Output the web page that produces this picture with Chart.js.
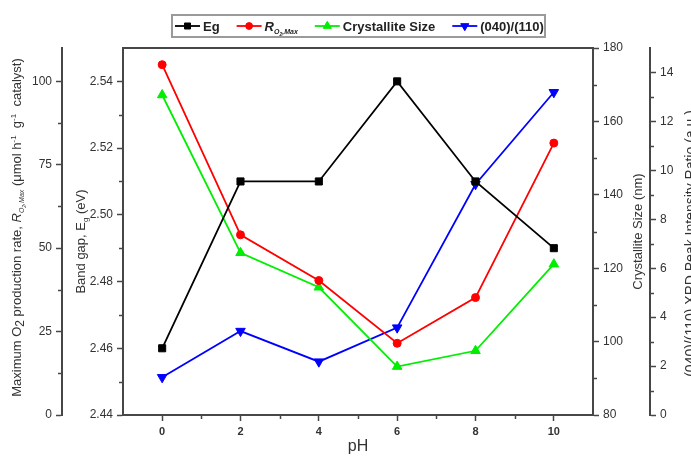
<!DOCTYPE html>
<html>
<head>
<meta charset="utf-8">
<script src="https://cdn.jsdelivr.net/npm/chart.js@4.4.1/dist/chart.umd.min.js"></script>
<style>
    html, body { margin: 0; padding: 0; background: #fff; }
    #wrap { width: 691px; height: 459px; }
</style>
</head>
<body>
<div id="wrap"><canvas id="chart"></canvas></div>
<script>
const ph = [0, 2, 4, 6, 8, 10];
const bandGap = [2.46, 2.51, 2.51, 2.54, 2.51, 2.49];
const o2Rate = [105, 54, 40.3, 21.5, 35.2, 81.5];
const crystalliteSize = [167.2, 124.2, 114.8, 93.2, 97.5, 121.1];
const peakRatio = [1.54, 3.43, 2.18, 3.57, 9.43, 13.19];

const phTicks = [0, 2, 4, 6, 8, 10];
const o2Ticks = [0, 25, 50, 75, 100];
const gapTicks = [2.44, 2.46, 2.48, 2.5, 2.52, 2.54];
const sizeTicks = [80, 100, 120, 140, 160, 180];
const ratioTicks = [0, 2, 4, 6, 8, 10, 12, 14];

const phMinor = [1, 3, 5, 7, 9];
const o2Minor = [12.5, 37.5, 62.5, 87.5];
const gapMinor = [2.45, 2.47, 2.49, 2.51, 2.53];
const sizeMinor = [90, 110, 130, 150, 170];
const ratioMinor = [1, 3, 5, 7, 9, 11, 13];

const FONT = 'Arial, "Liberation Sans", sans-serif';
const AXIS = '#474747';
const LABEL = '#333333';

// rich text pieces: sub/superscripts are shifted with dy
const rSub = [
    { t: 'O', italic: true, size: 7, dy: 3 },
    { t: '2', italic: true, size: 5, dy: 5 },
    { t: ',Max', italic: true, size: 7, dy: 3 },
];
const o2Title = [
    { t: 'Maximum O' },
    { t: '2', size: 12, dy: 3 },
    { t: ' production rate, ' },
    { t: 'R', italic: true },
    ...rSub,
    { t: ' (\u03bcmol h' },
    { t: '-1', size: 8, dy: -5 },
    { t: '  g' },
    { t: '-1', size: 8, dy: -5 },
    { t: '  catalyst)' },
];
const gapTitle = [{ t: 'Band gap, E' }, { t: 'g', size: 8, dy: 3 }, { t: ' (eV)' }];
const sizeTitle = [{ t: 'Crystallite Size (nm)' }];
const ratioTitle = [{ t: '(040)/(110) XRD Peak Intensity Ratio (a.u.)', size: 14 }];

function segFont(s, base, bold) {
    return `${s.italic ? 'italic ' : ''}${bold ? 'bold ' : ''}${s.size || base}px ${FONT}`;
}

function drawRich(ctx, segs, cx, cy, angle, base, bold, align) {
    ctx.save();
    ctx.translate(cx, cy);
    ctx.rotate(angle);
    let total = 0;
    const widths = segs.map((s) => {
        ctx.font = segFont(s, base, bold);
        const w = ctx.measureText(s.t).width;
        total += w;
        return w;
    });
    let x = align === 'left' ? 0 : -total / 2;
    ctx.textAlign = 'left';
    ctx.textBaseline = 'alphabetic';
    segs.forEach((s, i) => {
        ctx.font = segFont(s, base, bold);
        ctx.fillText(s.t, x, base * 0.36 + (s.dy || 0));
        x += widths[i];
    });
    ctx.restore();
    return total;
}

function marker(ctx, style, rotation, radius, x, y) {
    if (Chart.helpers && Chart.helpers.drawPoint) {
        Chart.helpers.drawPoint(ctx, { pointStyle: style, rotation, radius, borderWidth: 1 }, x, y);
    }
}

const series = [
    { label: [{ t: 'Eg' }], values: bandGap, axis: 'yGap', color: '#000000', style: 'rect', radius: 5, rotation: 0 },
    { label: [{ t: 'R', italic: true }, ...rSub], values: o2Rate, axis: 'yRate', color: '#ff0000', style: 'circle', radius: 4, rotation: 0 },
    { label: [{ t: 'Crystallite Size' }], values: crystalliteSize, axis: 'ySize', color: '#00ee00', style: 'triangle', radius: 5.5, rotation: 0 },
    { label: [{ t: '(040)/(110)' }], values: peakRatio, axis: 'yRatio', color: '#0000ff', style: 'triangle', radius: 5.5, rotation: 180 },
];

const datasets = series.map((s) => ({
    label: s.label.map((p) => p.t).join(''),
    legendText: s.label,
    data: ph.map((x, i) => ({ x, y: s.values[i] })),
    yAxisID: s.axis,
    borderColor: s.color,
    backgroundColor: s.color,
    borderWidth: 1.8,
    pointStyle: s.style,
    pointRadius: s.radius,
    pointRotation: s.rotation,
    pointBorderWidth: 1,
    tension: 0,
}));

function yAxis(pos, weight, min, max, ticks, width, fmt) {
    return {
        type: 'linear',
        position: pos,
        weight,
        min,
        max,
        afterBuildTicks: (s) => { s.ticks = ticks.map((value) => ({ value })); },
        afterFit: (s) => { s.width = width; },
        ticks: {
            autoSkip: false,
            color: LABEL,
            padding: 4,
            font: { family: FONT, size: 12 },
            callback: fmt || ((v) => v),
        },
        grid: { drawOnChartArea: false, tickLength: 6, tickColor: AXIS, tickWidth: 1.5 },
        border: { color: AXIS, width: 2 },
    };
}

// minor ticks, axis titles, the top frame line and the boxed legend
const decorations = {
    id: 'decorations',
    afterDraw(chart) {
        const { ctx, chartArea: area, scales } = chart;
        const midY = (area.top + area.bottom) / 2;
        ctx.save();
        ctx.strokeStyle = AXIS;
        ctx.lineWidth = 2;
        ctx.beginPath();
        ctx.moveTo(area.left - 1, area.top);
        ctx.lineTo(area.right + 1, area.top);
        ctx.stroke();

        ctx.lineWidth = 1.5;
        const minorY = (scale, values, side) => {
            const edge = side === 'left' ? scale.right : scale.left;
            const dir = side === 'left' ? -1 : 1;
            values.forEach((v) => {
                const y = Math.round(scale.getPixelForValue(v)) + 0.5;
                ctx.beginPath();
                ctx.moveTo(edge, y);
                ctx.lineTo(edge + dir * 4, y);
                ctx.stroke();
            });
        };
        minorY(scales.yRate, o2Minor, 'left');
        minorY(scales.yGap, gapMinor, 'left');
        minorY(scales.ySize, sizeMinor, 'right');
        minorY(scales.yRatio, ratioMinor, 'right');
        phMinor.forEach((v) => {
            const x = Math.round(scales.x.getPixelForValue(v)) + 0.5;
            ctx.beginPath();
            ctx.moveTo(x, scales.x.top);
            ctx.lineTo(x, scales.x.top + 4);
            ctx.stroke();
        });

        ctx.fillStyle = LABEL;
        const up = -Math.PI / 2;
        drawRich(ctx, o2Title, scales.yRate.left + 16, midY - 4, up, 13, false);
        drawRich(ctx, gapTitle, scales.yGap.left + 18, midY + 10, up, 13, false);
        drawRich(ctx, sizeTitle, scales.ySize.left + 44, midY, up, 13, false);
        drawRich(ctx, ratioTitle, scales.yRatio.left + 40, midY + 12, up, 14, false);
        drawRich(ctx, [{ t: 'pH' }], (area.left + area.right) / 2, scales.x.bottom - 14, 0, 16, false);

        // legend box
        const box = { left: 172, top: 15, right: 545, bottom: 37 };
        ctx.strokeStyle = '#9a9a9a';
        ctx.lineWidth = 2;
        ctx.strokeRect(box.left, box.top, box.right - box.left, box.bottom - box.top);
        const cy = (box.top + box.bottom) / 2;
        let x = box.left + 3;
        chart.data.datasets.forEach((ds) => {
            ctx.strokeStyle = ds.borderColor;
            ctx.fillStyle = ds.borderColor;
            ctx.lineWidth = 1.8;
            ctx.beginPath();
            ctx.moveTo(x, cy);
            ctx.lineTo(x + 25, cy);
            ctx.stroke();
            ctx.lineWidth = 1;
            marker(ctx, ds.pointStyle, ds.pointRotation, ds.pointRadius * 0.85, x + 12.5, cy);
            ctx.fillStyle = '#222';
            const w = drawRich(ctx, ds.legendText, x + 28, cy, 0, 13, true, 'left');
            x += 28 + w + 17;
        });
        ctx.restore();
    },
};

new Chart(document.getElementById('chart'), {
    type: 'line',
    data: { datasets },
    options: {
        responsive: true,
        maintainAspectRatio: false,
        animation: false,
        layout: { padding: { top: 48, left: 0, right: 0, bottom: 0 } },
        plugins: { legend: { display: false }, tooltip: { enabled: false } },
        scales: {
            x: {
                type: 'linear',
                min: -1,
                max: 11,
                afterBuildTicks: (s) => { s.ticks = phTicks.map((value) => ({ value })); },
                afterFit: (s) => { s.height = 44; },
                ticks: {
                    autoSkip: false,
                    maxRotation: 0,
                    color: LABEL,
                    padding: 4,
                    font: { family: FONT, size: 11, weight: 'bold' },
                },
                grid: { drawOnChartArea: false, tickLength: 6, tickColor: AXIS, tickWidth: 1.5 },
                border: { color: AXIS, width: 2 },
            },
            yRate: yAxis('left', 2, 0, 110, o2Ticks, 62),
            yGap: yAxis('left', 1, 2.44, 2.55, gapTicks, 61, (v) => v.toFixed(2)),
            ySize: yAxis('right', 1, 80, 180, sizeTicks, 57),
            yRatio: yAxis('right', 2, 0, 15, ratioTicks, 41),
        },
    },
    plugins: [decorations],
});
</script>
</body>
</html>
